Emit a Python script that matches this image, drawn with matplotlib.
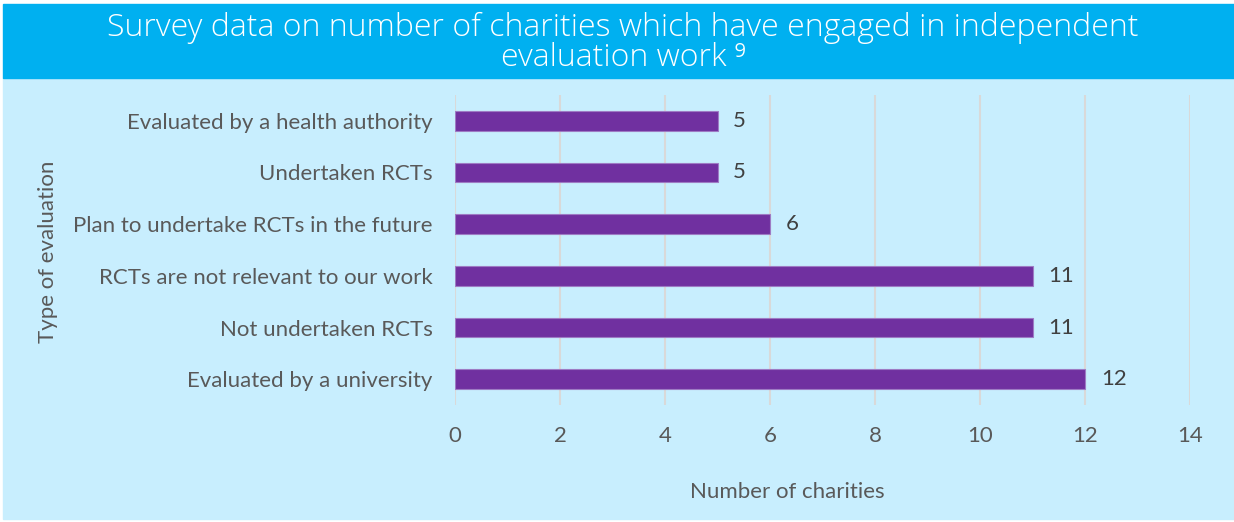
import matplotlib.pyplot as plt
from matplotlib.patches import Rectangle

categories = ["Evaluated by a university", "Not undertaken RCTs",
              "RCTs are not relevant to our work", "Plan to undertake RCTs in the future",
              "Undertaken RCTs", "Evaluated by a health authority"]
values = [12, 11, 11, 6, 5, 5]
xticks = [0, 2, 4, 6, 8, 10, 12, 14]

grey = "#595959"
plt.rcParams['font.family'] = ['Lato', 'DejaVu Sans']

fig = plt.figure(figsize=(12.34, 5.22), dpi=100)
fig.patch.set_facecolor("white")

# background panels (pixel coords from top)
fig.add_artist(Rectangle((3 / 1234, 1 - 519 / 522), 1 - 3 / 1234, (519 - 78) / 522,
                         transform=fig.transFigure, color="#C8EEFE", zorder=0))
fig.add_artist(Rectangle((3 / 1234, 1 - 78 / 522), 1 - 3 / 1234, 74 / 522,
                         transform=fig.transFigure, color="#00B0F0", zorder=0))
title_font = dict(ha="center", va="center", color="white", fontsize=23,
                  family=["Open Sans", "DejaVu Sans"], fontweight="light")
fig.text(0.505, 1 - 28 / 522, "Survey data on number of charities which have engaged in independent",
         **title_font)
fig.text(0.505, 1 - 58 / 522, "evaluation work \u2079", **title_font)

ax = fig.add_axes([455 / 1234, 1 - 405 / 522, (1190 - 455) / 1234, 310 / 522])
ax.set_facecolor("none")
y = range(len(categories))
ax.barh(y, values, height=0.38, color="#7030A0", edgecolor="#9E7BC4", linewidth=0.8, zorder=3)
for i, v in zip(y, values):
    ax.text(v + 0.3, i, str(v), va="center", ha="left", fontsize=16, color="#404040")

ax.set_xlim(0, 14)
ax.set_ylim(-0.5, len(categories) - 0.5)
ax.set_xticks(xticks)
ax.set_yticks(list(y))
ax.set_yticklabels(categories)
ax.grid(axis="x", color="#D9D9D9", linewidth=1.5, zorder=0)
ax.tick_params(axis="x", length=0, pad=15, labelsize=16, labelcolor=grey)
ax.tick_params(axis="y", length=0, pad=16, labelsize=16, labelcolor=grey)
for s in ax.spines.values():
    s.set_visible(False)

fig.text(787 / 1234, 1 - 492 / 522, "Number of charities", ha="center", va="center",
         fontsize=16, color=grey)
fig.text(48 / 1234, 1 - 252 / 522, "Type of evaluation", rotation=90, ha="center", va="center",
         fontsize=16, color=grey)

fig.savefig("out.png", dpi=100)
